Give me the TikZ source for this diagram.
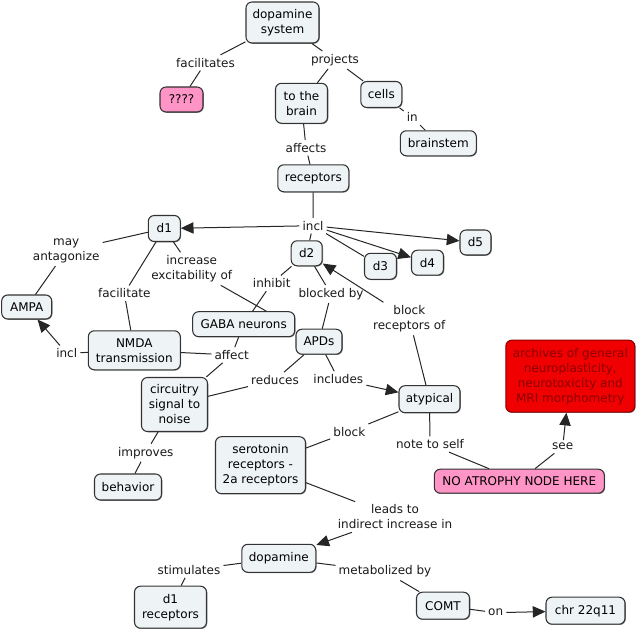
\documentclass[tikz,border=0pt]{standalone}
\usepackage{fontspec}
\setmainfont{DejaVu Sans}
\usetikzlibrary{arrows.meta,shadows}
\definecolor{nodefill}{HTML}{EEF3F5}
\definecolor{nodeline}{HTML}{333333}
\definecolor{pinkfill}{HTML}{FF94C6}
\definecolor{redfill}{HTML}{F00000}
\definecolor{redline}{HTML}{8A0000}
\definecolor{redtext}{HTML}{8A0000}
\begin{document}
\begin{tikzpicture}[x=0.75pt,y=-0.75pt,
  every node/.style={font=\fontsize{9}{11.25}\selectfont, align=center, inner sep=0pt},
  box/.style={draw=nodeline, fill=nodefill, rounded corners=4.5pt, line width=0.8pt,
    drop shadow={shadow xshift=0.6pt, shadow yshift=-0.6pt, opacity=0.45, fill=black}},
  pinkbox/.style={box, fill=pinkfill},
  redbox/.style={box, fill=redfill, draw=redline, text=redtext},
  sz/.style 2 args={minimum width=#1*0.75pt, minimum height=#2*0.75pt},
  lab/.style={inner sep=2.2pt, text=black!90},
  conn/.style={line width=0.75pt, black!85},
  arr/.style={conn, -{Triangle[length=9.5pt,width=8.5pt]}}
]
\useasboundingbox (0,0) rectangle (636,630);
% concepts
\node[box,sz={73}{41}] (ds) at (282.5,22.5) {dopamine\\system};
\node[pinkbox,sz={43}{25}] (q) at (181.5,99.5) {????};
\node[box,sz={52}{40}] (brain) at (301.5,103.3) {to the\\brain};
\node[box,sz={41}{26}] (cells) at (381.3,94.5) {cells};
\node[box,sz={76}{25}] (brainstem) at (438.3,143.3) {brainstem};
\node[box,sz={71}{27}] (receptors) at (313.3,178.3) {receptors};
\node[box,sz={32}{26}] (d1) at (164.3,228.5) {d1};
\node[box,sz={31}{25}] (d2) at (306.7,253.3) {d2};
\node[box,sz={32}{26}] (d3) at (380.5,266.3) {d3};
\node[box,sz={32}{25}] (d4) at (427.5,262.7) {d4};
\node[box,sz={31}{25}] (d5) at (475.5,242.5) {d5};
\node[box,sz={50}{24}] (ampa) at (26.7,307) {AMPA};
\node[box,sz={92}{39}] (nmda) at (134.3,350.3) {NMDA\\transmission};
\node[box,sz={102}{25}] (gaba) at (243.7,324.2) {GABA neurons};
\node[box,sz={46}{25}] (apds) at (319,341.7) {APDs};
\node[box,sz={61}{27}] (atyp) at (429.5,399.2) {atypical};
\node[redbox,sz={129}{72}] (archives) at (570.3,376.2) {archives of general\\neuroplasticity,\\neurotoxicity and\\MRI morphometry};
\node[box,sz={66}{54}] (circ) at (174.5,404.5) {circuitry\\signal to\\noise};
\node[box,sz={67}{26}] (behavior) at (128,487) {behavior};
\node[box,sz={90}{57}] (sero) at (260.5,465.2) {serotonin\\receptors -\\2a receptors};
\node[pinkbox,sz={170}{24}] (noat) at (519.3,481.2) {NO ATROPHY NODE HERE};
\node[box,sz={74}{28}] (dopa) at (278.8,558.3) {dopamine};
\node[box,sz={72}{42}] (d1r) at (170.5,607.2) {d1\\receptors};
\node[box,sz={53}{27}] (comt) at (443,605.7) {COMT};
\node[box,sz={79}{27}] (chr) at (585.5,610.7) {chr 22q11};
% linking phrases
\node[lab] (lfac) at (205.5,62.7) {facilitates};
\node[lab] (lproj) at (335,60) {projects};
\node[lab] (lin) at (412.3,117.3) {in};
\node[lab] (laff) at (306,147.7) {affects};
\node[lab] (lincl) at (313,225.7) {incl};
\node[lab] (lmay) at (66.2,250.8) {may\\antagonize};
\node[lab] (lfacil) at (124.3,293.3) {facilitate};
\node[lab] (linc) at (191.7,268.8) {increase\\excitability of};
\node[lab] (linh) at (271.7,283.3) {inhibit};
\node[lab] (lblk) at (331,294) {blocked by};
\node[lab] (lblkr) at (409.3,318.8) {block\\receptors of};
\node[lab] (lincl2) at (66.7,353.3) {incl};
\node[lab] (laffect) at (231.7,355) {affect};
\node[lab] (lred) at (275,380) {reduces};
\node[lab] (lincs) at (338.3,379) {includes};
\node[lab] (lblock) at (349.3,431.7) {block};
\node[lab] (lnote) at (430,444.3) {note to self};
\node[lab] (lsee) at (562.7,446.7) {see};
\node[lab] (limp) at (145.7,452.7) {improves};
\node[lab] (llead) at (395,517) {leads to\\indirect increase in};
\node[lab] (lstim) at (189,570) {stimulates};
\node[lab] (lmet) at (385,571.5) {metabolized by};
\node[lab] (lon) at (495.7,612.7) {on};
% connectors
\draw[conn] (ds) -- (lfac);
\draw[conn] (lfac) -- (q);
\draw[conn] (ds) -- (lproj);
\draw[conn] (lproj) -- (brain);
\draw[conn] (lproj) -- (cells);
\draw[conn] (cells) -- (lin);
\draw[conn] (lin) -- (brainstem);
\draw[conn] (brain) -- (laff);
\draw[conn] (laff) -- (receptors);
\draw[conn] (receptors) -- (lincl);
\draw[arr] (lincl) -- (d1);
\draw[conn] (lincl) -- (d2);
\draw[conn] (lincl) -- (d3);
\draw[arr] (lincl) -- (d4);
\draw[arr] (lincl) -- (d5);
\draw[conn] (d1) -- (lmay);
\draw[conn] (lmay) -- (ampa);
\draw[conn] (d1) -- (lfacil);
\draw[conn] (lfacil) -- (nmda);
\draw[conn] (d1) -- (linc);
\draw[conn] (linc) -- (gaba.30);
\draw[conn] (d2) -- (linh);
\draw[conn] (linh) -- (gaba);
\draw[conn] (d2) -- (lblk);
\draw[conn] (lblk) -- (apds);
\draw[conn] (nmda) -- (lincl2);
\draw[arr] (lincl2) -- (ampa);
\draw[conn] (gaba) -- (laffect);
\draw[conn] (nmda) -- (laffect);
\draw[conn] (laffect) -- (circ);
\draw[conn] (apds) -- (lred);
\draw[conn] (lred) -- (circ);
\draw[conn] (apds) -- (lincs);
\draw[arr] (lincs) -- (atyp);
\draw[conn] (atyp) -- (lblkr);
\draw[arr] (lblkr) -- (d2);
\draw[conn] (atyp) -- (lblock);
\draw[conn] (lblock) -- (sero);
\draw[conn] (atyp) -- (lnote);
\draw[conn] (lnote) -- (noat);
\draw[conn] (noat) -- (lsee);
\draw[arr] (lsee) -- (archives);
\draw[conn] (circ) -- (limp);
\draw[conn] (limp) -- (behavior);
\draw[conn] (sero) -- (llead);
\draw[arr] (llead) -- (dopa);
\draw[conn] (dopa) -- (lstim);
\draw[conn] (lstim) -- (d1r);
\draw[conn] (dopa) -- (lmet);
\draw[conn] (lmet) -- (comt);
\draw[conn] (comt) -- (lon);
\draw[arr] (lon) -- (chr);
\end{tikzpicture}
\end{document}
